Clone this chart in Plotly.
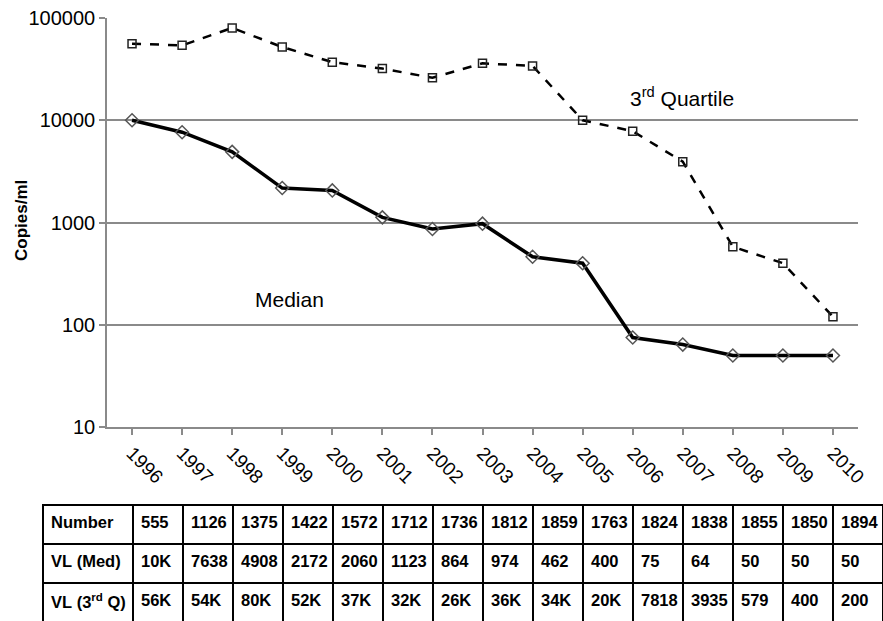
import plotly.graph_objects as go

years = ["1996", "1997", "1998", "1999", "2000", "2001", "2002", "2003",
         "2004", "2005", "2006", "2007", "2008", "2009", "2010"]
median_vl = [10000, 7638, 4908, 2172, 2060, 1123, 864, 974, 462, 400, 75, 64, 50, 50, 50]
q3_vl = [56000, 54000, 80000, 52000, 37000, 32000, 26000, 36000, 34000, 10000,
         7818, 3935, 579, 400, 120]

row_labels = ["Number", "VL\u00a0(Med)", "VL\u00a0(3<sup>rd</sup>\u00a0Q)"]
number_row = ["555", "1126", "1375", "1422", "1572", "1712", "1736", "1812",
              "1859", "1763", "1824", "1838", "1855", "1850", "1894"]
med_row = ["10K", "7638", "4908", "2172", "2060", "1123", "864", "974", "462",
           "400", "75", "64", "50", "50", "50"]
q3_row = ["56K", "54K", "80K", "52K", "37K", "32K", "26K", "36K", "34K", "20K",
          "7818", "3935", "579", "400", "200"]

W, H = 883, 621
FONT = "Liberation Sans"


def px(x):
    return x / W


def py(y):
    return 1 - y / H


fig = go.Figure()

fig.add_trace(go.Scatter(
    x=years, y=q3_vl, mode="lines+markers",
    line=dict(color="black", width=2.5, dash="dash"),
    marker=dict(symbol="square-open", size=8, color="#222222",
                line=dict(width=1.5, color="#222222")),
    showlegend=False, cliponaxis=False,
))
fig.add_trace(go.Scatter(
    x=years, y=median_vl, mode="lines+markers",
    line=dict(color="black", width=3.5),
    marker=dict(symbol="diamond-open", size=10, color="#555555",
                line=dict(width=1.5, color="#555555")),
    showlegend=False, cliponaxis=False,
))

header_vals = [row_labels[0]] + number_row
cell_cols = [[row_labels[1], row_labels[2]]] + [[m, q] for m, q in zip(med_row, q3_row)]
fig.add_trace(go.Table(
    domain=dict(x=[px(43), 1.0], y=[0, py(505)]),
    columnwidth=[90] + [50] * len(years),
    header=dict(values=["<b>%s</b>" % v for v in header_vals],
                fill_color="white", line=dict(color="black", width=1.5),
                align="left", height=39,
                font=dict(family=FONT, size=16.5, color="black")),
    cells=dict(values=[["<b>%s</b>" % v for v in col] for col in cell_cols],
               fill_color="white", line=dict(color="black", width=1.5),
               align="left", height=39,
               font=dict(family=FONT, size=16.5, color="black")),
))

fig.update_layout(
    width=W, height=H,
    margin=dict(l=0, r=0, t=0, b=0),
    plot_bgcolor="white", paper_bgcolor="white",
    font=dict(family=FONT, color="black"),
    xaxis=dict(
        domain=[px(107), px(858)], type="category", range=[-0.5, 14.5],
        showgrid=False, showline=True, linecolor="#8a8a8a", linewidth=1.5,
        ticks="outside", ticklen=6, tickcolor="#8a8a8a", tickwidth=1.5,
        tickangle=45, tickfont=dict(size=19, family=FONT, color="black"),
        automargin=False, anchor="y", ticklabeloverflow="allow",
    ),
    yaxis=dict(
        domain=[py(427), py(18)], type="log", range=[1, 5],
        tickvals=[10, 100, 1000, 10000, 100000],
        ticktext=["10", "100", "1000", "10000", "100000"],
        showgrid=True, gridcolor="#8a8a8a", gridwidth=1.5,
        showline=True, linecolor="#8a8a8a", linewidth=1.5,
        ticks="outside", ticklen=6, tickcolor="#8a8a8a", tickwidth=1.5,
        tickfont=dict(size=20, family=FONT, color="black"),
        zeroline=False, automargin=False, anchor="x", ticklabeloverflow="allow",
    ),
    annotations=[
        dict(text="<b>Copies/ml</b>", x=px(21), y=py(221), xref="paper", yref="paper",
             xanchor="center", yanchor="middle",
             textangle=-90, showarrow=False, font=dict(size=17, family=FONT)),
        dict(text="Median", x=px(289), y=py(300), xref="paper", yref="paper",
             xanchor="center", yanchor="middle",
             showarrow=False, font=dict(size=21, family=FONT)),
        dict(text="3<sup>rd</sup> Quartile", x=px(682), y=py(97), xref="paper", yref="paper",
             xanchor="center", yanchor="middle",
             showarrow=False, font=dict(size=21, family=FONT)),
    ],
)

fig.write_html(
    "out.html",
    config={"displayModeBar": False},
    post_script="document.body.style.margin='0';document.body.style.overflow='hidden';",
)
